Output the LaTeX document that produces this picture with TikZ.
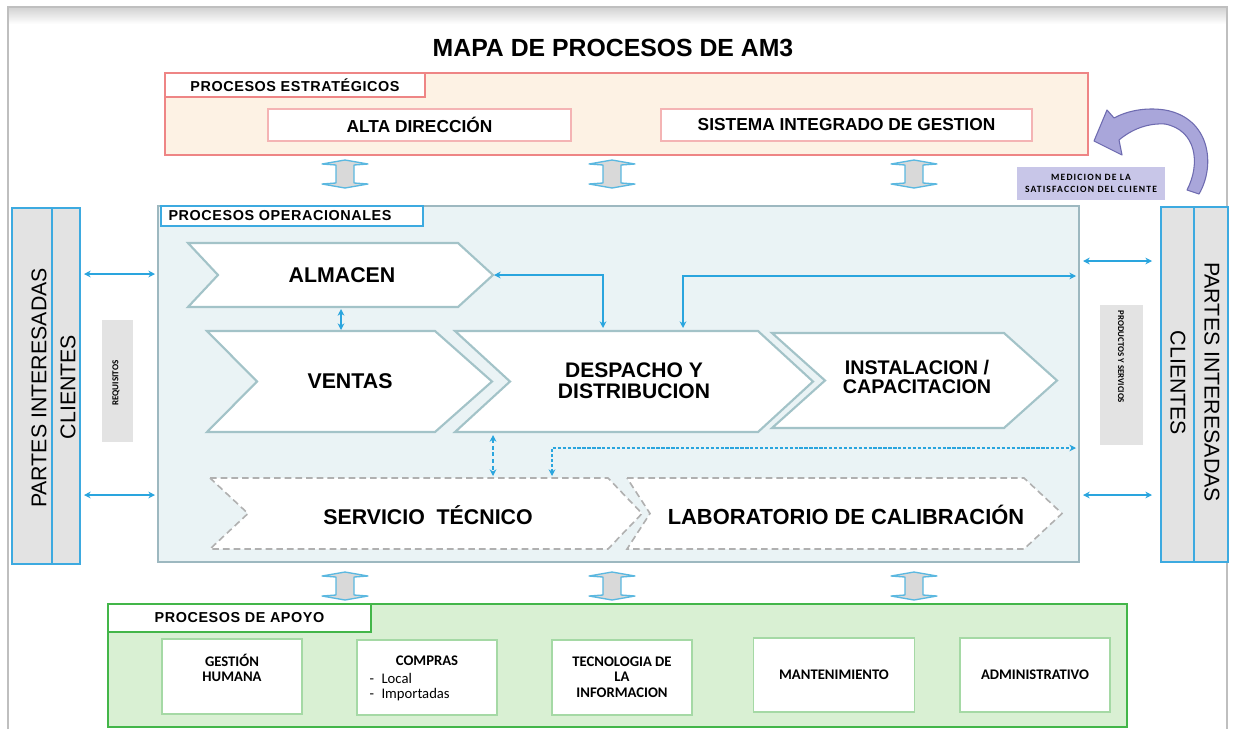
\documentclass[tikz,border=0pt]{standalone}
\usepackage{fontspec}
\setmainfont{Liberation Sans}
\newfontfamily\carl{Carlito}
\newfontfamily\carlsp{Carlito}[LetterSpace=12]
\newfontfamily\liblsp{Liberation Sans}[LetterSpace=4]
\usetikzlibrary{arrows.meta}
\definecolor{stratfill}{HTML}{FDF2E4}
\definecolor{stratline}{HTML}{EE8585}
\definecolor{stratinner}{HTML}{F4B4B4}
\definecolor{operfill}{HTML}{EAF3F5}
\definecolor{operline}{HTML}{9DB8C0}
\definecolor{blueline}{HTML}{3DAAE0}
\definecolor{chevline}{HTML}{A3C3C8}
\definecolor{dashline}{HTML}{B0B0B0}
\definecolor{arrblue}{HTML}{2AA5DE}
\definecolor{partfill}{HTML}{E3E3E3}
\definecolor{supfill}{HTML}{D9F0D3}
\definecolor{supline}{HTML}{43B649}
\definecolor{supinner}{HTML}{A5D9A5}
\definecolor{lavbox}{HTML}{C8C6E8}
\definecolor{lavarrow}{HTML}{A9A6DA}
\definecolor{lavline}{HTML}{6E6BB0}
\definecolor{iconfill}{HTML}{D9D9D9}
\definecolor{iconline}{HTML}{5BB8E0}
\def\u{0.75pt}
\tikzset{
  pbox/.style args={#1/#2}{inner sep=0pt, minimum width=#1*\u, minimum height=#2*\u},
  chevst/.style={draw=chevline, fill=white, line width=1.6pt, line join=miter},
  chevdash/.style={draw=dashline, fill=white, line width=1.2pt, dash pattern=on 5pt off 3pt},
  arr/.style={draw=arrblue, line width=1.4pt, {Stealth[length=5pt,width=5pt]}-{Stealth[length=5pt,width=5pt]}},
  chevtxt/.style={font=\bfseries\fontsize{16}{16}\selectfont, align=center},
  suptxt/.style={font=\carl\bfseries\fontsize{11}{11.5}\selectfont, align=center},
  lbltxt/.style={font=\liblsp\bfseries\fontsize{10.8}{12}\selectfont},
  partxt/.style={font=\fontsize{16}{18}\selectfont},
  icon/.style={fill=iconfill, draw=iconline, line width=1pt, line join=round}
}
\newcommand\chevron[7][chevst]{% style, L, N, R, Tip, T, B
  \draw[#1] (#2,#6) -- (#4,#6) -- (#5,{(#6+#7)/2}) -- (#4,#7) -- (#2,#7) -- (#3,{(#6+#7)/2}) -- cycle;}
\newcommand\updown[3]{% cx, ty, by
  \draw[icon] (#1,#2) -- (#1+23,#2+4) -- (#1+9,#2+5) -- (#1+9,#3-5) -- (#1+23,#3-4) -- (#1,#3) -- (#1-23,#3-4) -- (#1-9,#3-5) -- (#1-9,#2+5) -- (#1-23,#2+4) -- cycle;}
\begin{document}
\begin{tikzpicture}[x=0.75pt,y=-0.75pt]
\useasboundingbox (0,0) rectangle (1234,729);
\fill[white] (0,0) rectangle (1234,729);
\shade[top color=black!18, bottom color=white] (8,7) rectangle (1227,24);
\draw[black!25, line width=0.8pt] (8,729) -- (8,7) -- (1227,7) -- (1227,729);

% title
\node[font=\bfseries\fontsize{18.6}{20}\selectfont] (title) at (613,48) {MAPA DE PROCESOS DE AM3};

% strategic
\node[pbox=923/82, draw=stratline, fill=stratfill, line width=1.5pt] (strat) at (626.5,114) {};
\node[pbox=260/24, draw=stratline, fill=white, line width=1.5pt, lbltxt] (stratlbl) at (295,85) {PROCESOS ESTRATÉGICOS};
\node[pbox=303/32, draw=stratinner, fill=white, line width=1.2pt, font=\bfseries\fontsize{13}{14}\selectfont] (alta) at (419.5,125) {ALTA DIRECCIÓN};
\node[pbox=371/32, draw=stratinner, fill=white, line width=1.2pt, font=\bfseries\fontsize{13}{14}\selectfont] (sig) at (846.5,125) {SISTEMA INTEGRADO DE GESTION};

% up-down icons
\updown{345}{160}{188}
\updown{612}{160}{188}
\updown{914}{160}{188}
\updown{345}{572}{600}
\updown{612}{572}{600}
\updown{914}{572}{600}

% curved arrow + medicion
\draw[fill=lavarrow, draw=lavline, line width=0.8pt, line join=round]
  (1199,194) .. controls (1216,165) and (1210,118) .. (1165,110)
  .. controls (1145,107) and (1127,111) .. (1114,118)
  -- (1107,110) -- (1094,141) -- (1122,155) -- (1119,140)
  .. controls (1132,129) and (1148,123) .. (1165,124)
  .. controls (1196,130) and (1201,163) .. (1187,190) -- cycle;
\node[pbox=148/33, fill=lavbox, font=\carlsp\bfseries\fontsize{7.2}{8.5}\selectfont, align=center] (medicion) at (1091,183.5) {MEDICION DE LA\\SATISFACCION DEL CLIENTE};

% operational
\node[pbox=921/356, draw=operline, fill=operfill, line width=1.2pt] (oper) at (618.5,384) {};
\node[pbox=262/20, draw=blueline, fill=white, line width=1.5pt, lbltxt, text width=247*\u, align=left] (operlbl) at (292,216) {PROCESOS OPERACIONALES};

% chevrons
\chevron{188}{218}{458}{493}{243}{307}
\chevron{207}{257}{435}{492}{331}{432}
\chevron{455}{510}{758}{813}{331}{432}
\chevron{772}{825}{1004}{1057}{333}{428}
\chevron[chevdash]{210}{248}{608}{642}{478}{549}
\chevron[chevdash]{627}{650}{1024}{1062}{478}{549}
\node[chevtxt] (almacen) at (342,275) {ALMACEN};
\node[chevtxt] (ventas) at (350,381) {VENTAS};
\node[chevtxt, font=\bfseries\fontsize{15.8}{15.5}\selectfont] (despacho) at (634,381) {DESPACHO Y\\DISTRIBUCION};
\node[chevtxt, font=\bfseries\fontsize{14.8}{14.8}\selectfont] (instal) at (917,377) {INSTALACION /\\CAPACITACION};
\node[chevtxt] (servicio) at (428,515) {SERVICIO\ \ TÉCNICO};
\node[chevtxt, font=\bfseries\fontsize{16.4}{16}\selectfont] (lab) at (846,515) {LABORATORIO DE CALIBRACIÓN};

% connector end points
\coordinate (almTip) at (494,275);
\coordinate (despA) at (603,328);
\coordinate (despB) at (683,328);
\coordinate (operR1) at (1076,276);
\coordinate (almBot) at (341,309);
\coordinate (venTop) at (341,330);
\coordinate (despBot) at (493,435);
\coordinate (servTop) at (493,476);
\coordinate (servTop2) at (552,476);
\coordinate (operR2) at (1076,448);

\draw[arr] (almTip) -| (despA);
\draw[arr] (despB) |- (operR1);
\draw[arr, line width=1.2pt] (almBot) -- (venTop);
\draw[arr, line width=1.2pt, dash pattern=on 3pt off 2pt] (despBot) -- (servTop);
\draw[arr, line width=1.2pt, dash pattern=on 2.5pt off 1.2pt] (servTop2) |- (operR2);

% left partes
\node[pbox=40/356, draw=blueline, fill=partfill, line width=1.2pt] (partL) at (32,386) {};
\node[pbox=28/356, draw=blueline, fill=partfill, line width=1.2pt] (cliL) at (66,386) {};
\node[partxt, rotate=90] (partLt) at (39,388) {PARTES INTERESADAS};
\node[partxt, rotate=90] (cliLt) at (68,387) {CLIENTES};
\node[pbox=31/122, fill=partfill] (req) at (117.5,381) {};
\node[rotate=90, font=\carl\bfseries\fontsize{6.8}{7}\selectfont] (reqt) at (116,383) {REQUISITOS};

% right partes
\node[pbox=33/355, draw=blueline, fill=partfill, line width=1.2pt] (cliR) at (1177.5,384.5) {};
\node[pbox=34/355, draw=blueline, fill=partfill, line width=1.2pt] (partR) at (1211,384.5) {};
\node[partxt, rotate=-90] (cliRt) at (1178,383) {CLIENTES};
\node[partxt, rotate=-90] (partRt) at (1212,382) {PARTES INTERESADAS};
\node[pbox=43/140, fill=partfill] (prod) at (1121,375) {};
\node[rotate=-90, font=\carl\bfseries\fontsize{6.6}{7}\selectfont] (prodt) at (1121,357) {PRODUCTOS Y SERVICIOS};

% side arrows
\coordinate (l1a) at (84,274); \coordinate (l1b) at (155,274);
\coordinate (l2a) at (84,495); \coordinate (l2b) at (155,495);
\coordinate (r1a) at (1083,261); \coordinate (r1b) at (1152,261);
\coordinate (r2a) at (1083,495); \coordinate (r2b) at (1152,495);
\draw[arr] (l1a) -- (l1b);
\draw[arr] (l2a) -- (l2b);
\draw[arr] (r1a) -- (r1b);
\draw[arr] (r2a) -- (r2b);

% support
\node[pbox=1019/123, draw=supline, fill=supfill, line width=1.5pt] (sup) at (617.5,665.5) {};
\node[pbox=263/28, draw=supline, fill=white, line width=1.5pt, lbltxt] (suplbl) at (239.5,618) {PROCESOS DE APOYO};
\node[pbox=140/75, draw=supinner, fill=white, line width=1.2pt] (gh) at (232,676.5) {};
\node[suptxt] (ght) at (232,668) {GESTIÓN\\HUMANA};
\node[pbox=140/75, draw=supinner, fill=white, line width=1.2pt] (compras) at (427,677.5) {};
\node[suptxt] (comprast) at (427,661) {COMPRAS};
\node[anchor=west, font=\carl\fontsize{11}{12}\selectfont] (local) at (365,678) {-\enspace Local};
\node[anchor=west, font=\carl\fontsize{11}{12}\selectfont] (import) at (365,695) {-\enspace Importadas};
\node[pbox=140/75, draw=supinner, fill=white, line width=1.2pt] (tecno) at (622,677.5) {};
\node[suptxt] (tecnot) at (622,677) {TECNOLOGIA DE\\LA\\INFORMACION};
\node[pbox=161/74, draw=supinner, fill=white, line width=1.2pt, suptxt] (mant) at (834,675) {MANTENIMIENTO};
\node[pbox=150/74, draw=supinner, fill=white, line width=1.2pt, suptxt] (admin) at (1035,675) {ADMINISTRATIVO};
\end{tikzpicture}
\end{document}
